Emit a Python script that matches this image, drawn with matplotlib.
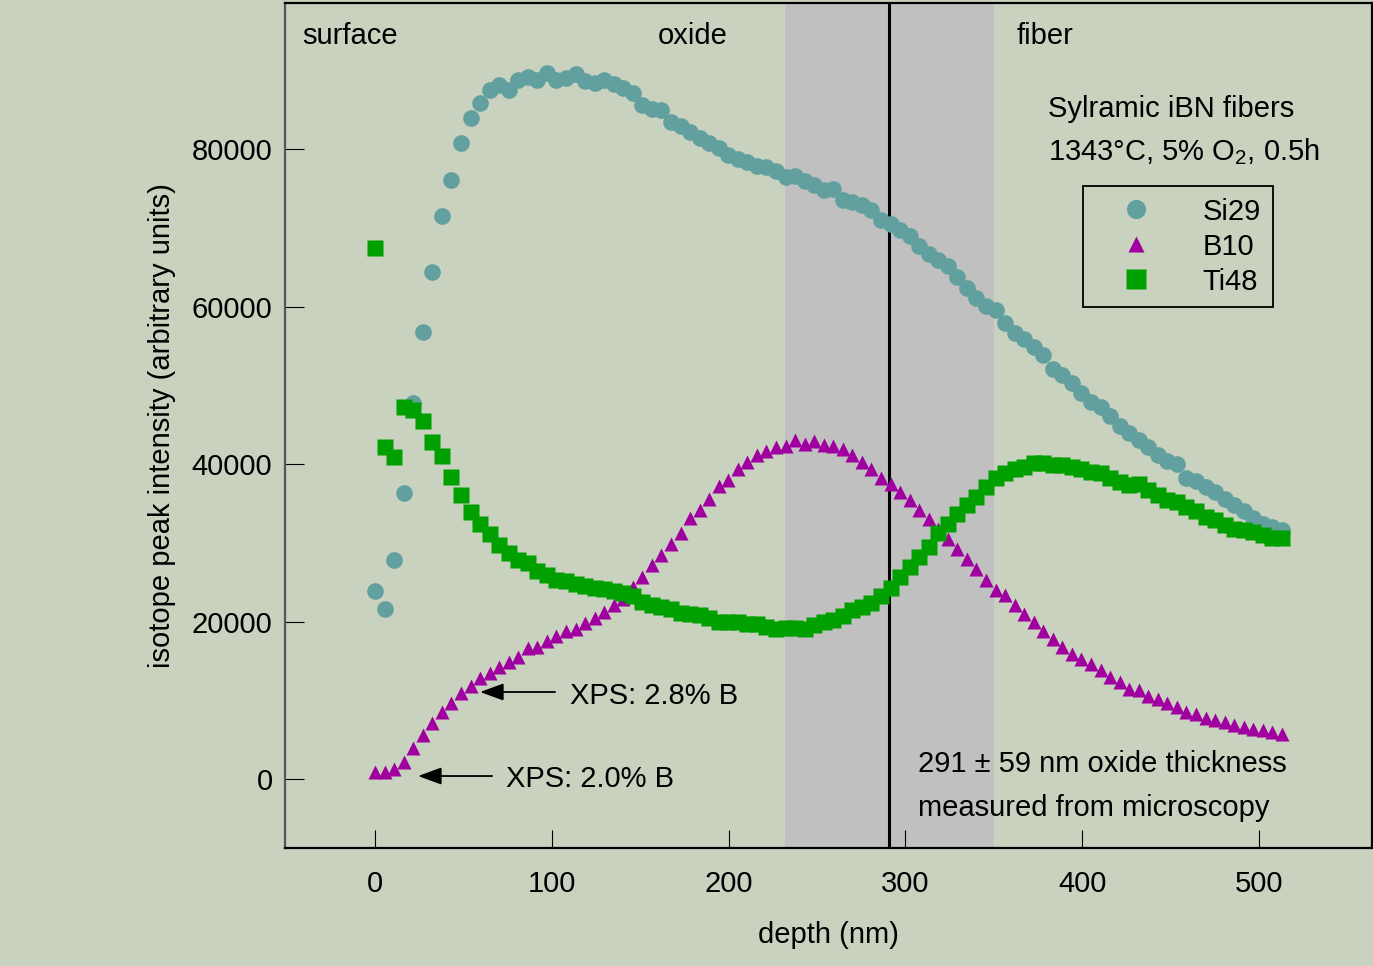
import matplotlib
matplotlib.use("Agg")
import matplotlib.pyplot as plt

plt.rcParams['font.family'] = ['Liberation Sans', 'DejaVu Sans']
plt.rcParams['mathtext.fontset'] = 'custom'
plt.rcParams['mathtext.rm'] = 'Liberation Sans'
plt.rcParams['mathtext.default'] = 'regular'

# ---------------- data ----------------
depth_nm = [0.0, 5.4, 10.8, 16.2, 21.6, 27.0, 32.4, 37.8, 43.2, 48.6,
            54.0, 59.4, 64.8, 70.2, 75.6, 81.0, 86.4, 91.8, 97.2, 102.6,
            108.0, 113.4, 118.8, 124.2, 129.6, 135.0, 140.4, 145.8, 151.2, 156.6,
            162.0, 167.4, 172.8, 178.2, 183.6, 189.0, 194.4, 199.8, 205.2, 210.6,
            216.0, 221.4, 226.8, 232.2, 237.6, 243.0, 248.4, 253.8, 259.2, 264.6,
            270.0, 275.4, 280.8, 286.2, 291.6, 297.0, 302.4, 307.8, 313.2, 318.6,
            324.0, 329.4, 334.8, 340.2, 345.6, 351.0, 356.4, 361.8, 367.2, 372.6,
            378.0, 383.4, 388.8, 394.2, 399.6, 405.0, 410.4, 415.8, 421.2, 426.6,
            432.0, 437.4, 442.8, 448.2, 453.6, 459.0, 464.4, 469.8, 475.2, 480.6,
            486.0, 491.4, 496.8, 502.2, 507.6, 513.0]

si29 = [23900, 21600, 27800, 36300, 47700, 56700, 64400, 71500, 76100, 80700,
        84000, 85800, 87500, 88100, 87500, 88800, 89200, 88700, 89700, 88700,
        89000, 89500, 88600, 88400, 88700, 88300, 87700, 87100, 85600, 85100,
        84900, 83400, 82900, 82200, 81400, 80800, 80100, 79200, 78700, 78400,
        77900, 77700, 77200, 76500, 76600, 76000, 75400, 74800, 74900, 73500,
        73300, 72900, 72300, 71000, 70500, 69700, 68900, 67700, 66700, 65900,
        65100, 63700, 62300, 61100, 60100, 59500, 57900, 56600, 55900, 54900,
        53800, 52100, 51300, 50300, 49000, 47900, 47300, 46100, 44800, 44000,
        43100, 42100, 41100, 40400, 40000, 38200, 37800, 37100, 36400, 35500,
        34800, 34000, 33100, 32400, 32000, 31600]

b10 = [900, 900, 1300, 2200, 3900, 5600, 7100, 8500, 9600, 10900,
       11800, 12800, 13500, 14200, 14900, 15500, 16600, 16800, 17500, 18200,
       18800, 19100, 19800, 20500, 21200, 22100, 22800, 24400, 25700, 27200,
       28400, 29900, 31300, 33100, 34200, 35600, 37200, 38000, 39400, 40300,
       41100, 41600, 42200, 42300, 43100, 42600, 42900, 42400, 42300, 41900,
       41100, 40200, 39400, 38200, 37500, 36500, 35400, 34200, 33000, 31800,
       30500, 29200, 27900, 26700, 25300, 24000, 23400, 22100, 21000, 19900,
       18800, 17800, 16800, 15900, 15200, 14600, 13800, 13000, 12300, 11400,
       11300, 10600, 10100, 9600, 9100, 8500, 8300, 7800, 7500, 7200,
       6900, 6600, 6300, 6200, 6000, 5700]

ti48 = [67400, 42200, 40900, 47300, 46900, 45400, 42800, 41000, 38300, 36100,
        33900, 32400, 31100, 29700, 28700, 27800, 27400, 26400, 25900, 25300,
        25100, 24800, 24500, 24200, 24100, 23900, 23600, 23300, 22500, 22100,
        21800, 21600, 21100, 21000, 20800, 20400, 20000, 19900, 19900, 19700,
        19700, 19300, 19100, 19200, 19200, 19100, 19600, 20000, 20200, 20700,
        21400, 21900, 22300, 23200, 24300, 25600, 26900, 28200, 29500, 31200,
        32400, 33700, 34800, 35800, 37100, 38200, 38800, 39400, 39600, 40100,
        40100, 39900, 39900, 39600, 39400, 39000, 38800, 38200, 37700, 37300,
        37500, 36700, 36100, 35400, 35200, 34600, 34000, 33300, 32900, 32300,
        31800, 31600, 31400, 31000, 30600, 30600]

series_labels = ['Si29', 'B10', 'Ti48']
x_ticks = [0, 100, 200, 300, 400, 500]
y_ticks = [0, 20000, 40000, 60000, 80000]
oxide_thickness = 291
oxide_err = 59

# ---------------- figure ----------------
BG = '#c8d2be'
W, H = 1373, 966
fig = plt.figure(figsize=(W / 100, H / 100), dpi=100, facecolor=BG)
ax = fig.add_axes([285 / W, 1 - 848 / H, (1372 - 285) / W, (848 - 3) / H])
ax.set_facecolor(BG)

ax.set_xlim(-51, 564)
ax.set_ylim(-8760, 98540)

ax.axvspan(oxide_thickness - oxide_err, oxide_thickness + oxide_err,
           color='#c0c0c0', zorder=0, lw=0)
ax.axvline(oxide_thickness, color='black', lw=2.2, zorder=1)

ax.plot(depth_nm, si29, 'o', ms=12, color='#62a0a0', mec='none', label=series_labels[0], zorder=3)
ax.plot(depth_nm, b10, '^', ms=10.5, color='#a000a0', mec='none', label=series_labels[1], zorder=3)
ax.plot(depth_nm, ti48, 's', ms=12, color='#00a000', mec='none', label=series_labels[2], zorder=3)

FS = 21
ax.set_xticks(x_ticks)
ax.set_yticks(y_ticks)
ax.set_xticklabels([str(v) for v in x_ticks])
ax.set_yticklabels([str(v) for v in y_ticks])
ax.tick_params(axis='x', direction='in', length=13, width=0.8, pad=15.5,
               labelsize=FS, bottom=True, top=False)
ax.tick_params(axis='y', direction='in', length=14, width=0.8, pad=9,
               labelsize=FS, left=True, right=False)

for side in ['top', 'right', 'bottom']:
    ax.spines[side].set_linewidth(1.6)
    ax.spines[side].set_color('black')
ax.spines['left'].set_linewidth(1.6)
ax.spines['left'].set_color('#555555')

ax.set_xlabel('depth (nm)', fontsize=FS)
ax.xaxis.set_label_coords(0.5, -0.086)
ax.set_ylabel('isotope peak intensity (arbitrary units)', fontsize=FS)
ax.yaxis.set_label_coords(-0.100, 0.5)

# region labels
ax.text(-41.3, 94300, 'surface', fontsize=FS, ha='left', va='center')
ax.text(179.7, 94300, 'oxide', fontsize=FS, ha='center', va='center')
ax.text(363, 94300, 'fiber', fontsize=FS, ha='left', va='center')

ax.text(380.7, 85100, 'Sylramic iBN fibers', fontsize=FS, ha='left', va='center')
ax.text(380.7, 79650, '1343\u00b0C, 5% O$_2$, 0.5h', fontsize=FS, ha='left', va='center')

ax.text(307.1, 1950, '291 \u00b1 59 nm oxide thickness', fontsize=FS, ha='left', va='center')
ax.text(307.1, -3650, 'measured from microscopy', fontsize=FS, ha='left', va='center')

# XPS annotations
arrow = dict(arrowstyle='-|>,head_length=0.6,head_width=0.22', color='black',
             lw=1.3, mutation_scale=24, shrinkA=0, shrinkB=0)
ax.annotate('', xy=(59.4, 11050), xytext=(101.8, 11050), arrowprops=arrow)
ax.text(110.3, 10550, 'XPS: 2.8% B', fontsize=FS, ha='left', va='center')
ax.annotate('', xy=(24.3, 380), xytext=(66.2, 380), arrowprops=arrow)
ax.text(74.1, 0, 'XPS: 2.0% B', fontsize=FS, ha='left', va='center')

leg = ax.legend(loc='upper left', bbox_to_anchor=(1083 / W, 1 - 186 / H),
                bbox_transform=fig.transFigure, borderaxespad=0,
                fontsize=FS, frameon=True, fancybox=False, framealpha=1,
                facecolor=BG, edgecolor='black', handlelength=2.8,
                handletextpad=0.9, labelspacing=0.24, borderpad=0.4,
                markerscale=1.15)
leg.get_frame().set_linewidth(1.3)

fig.savefig('out.png', dpi=100, facecolor=BG)
